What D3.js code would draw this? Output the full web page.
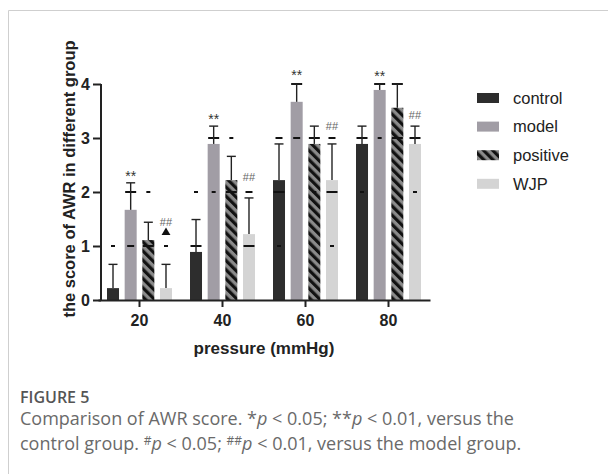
<!DOCTYPE html>
<html><head><meta charset="utf-8">
<script src="https://cdn.jsdelivr.net/npm/d3@7"></script>
<style>body{margin:0;background:#fff;} svg{display:block;}</style>
</head><body>
<svg id="chart" width="608" height="474"></svg>
<script>
// ---- data ----
const groups = ["20","40","60","80"];
const series = ["control","model","positive","WJP"];
const means = {
  control:  [0.22, 0.89, 2.22, 2.89],
  model:    [1.67, 2.89, 3.67, 3.89],
  positive: [1.11, 2.22, 2.89, 3.56],
  WJP:      [0.22, 1.22, 2.22, 2.89]
};
const errors = {
  control:  [0.44, 0.60, 0.67, 0.33],
  model:    [0.50, 0.33, 0.33, 0.11],
  positive: [0.33, 0.44, 0.33, 0.44],
  WJP:      [0.44, 0.67, 0.67, 0.33]
};
const yTicks = [0,1,2,3,4];
// individual points shown as dashes: [group, series, value, multiplicity]
const points = [
  ["20","control",1,1],["20","model",2,3],["20","model",1,2],["20","positive",2,1],["20","positive",1,3],["20","WJP",1,1],
  ["40","control",2,1],["40","control",1,3],["40","model",3,3],["40","model",2,1],["40","positive",3,1],["40","positive",2,3],["40","WJP",2,2],["40","WJP",1,3],
  ["60","control",3,2],["60","control",2,3],["60","control",1,1],["60","model",3,2],["60","model",4,3],["60","positive",3,3],["60","positive",2,1],["60","WJP",3,2],["60","WJP",2,3],["60","WJP",1,1],
  ["80","control",3,3],["80","control",2,1],["80","model",3,1],["80","model",4,3],["80","positive",3,3],["80","positive",4,3],["80","WJP",3,3],["80","WJP",2,1]
];
const triangles = [["20","WJP",1.25]];
// significance labels: [group, series, text, position (score units)]
const sigLabels = [
  ["20","model","**",2.37],["40","model","**",3.42],["60","model","**",4.24],["80","model","**",4.22],
  ["20","WJP","##",1.45],["40","WJP","##",2.28],["60","WJP","##",3.22],["80","WJP","##",3.42]
];
const colors = {control:"#2d2d2d", model:"#a19da5", positive:"url(#hatch)", WJP:"#d4d4d4"};
const yLabel = "the score of AWR in different group";
const xLabel = "pressure (mmHg)";

// ---- drawing ----
const FONT = "Arial, 'Liberation Sans', sans-serif";
const svg = d3.select("#chart");
const defs = svg.append("defs");
const pat = defs.append("pattern").attr("id","hatch").attr("patternUnits","userSpaceOnUse")
  .attr("width",6.5).attr("height",6.5).attr("patternTransform","rotate(-45)");
pat.append("rect").attr("width",6.5).attr("height",6.5).attr("fill","#8a8a8a");
pat.append("rect").attr("width",3.2).attr("height",6.5).attr("fill","#111");

// frame
svg.append("path").attr("d","M8.5,474V10.5H608").attr("fill","none").attr("stroke","#cfcfcf").attr("stroke-width",1);

const y = d3.scaleLinear().domain([0,4]).range([300,84]);
const x0 = d3.scaleBand().domain(groups).range([98,430]).paddingInner(0).paddingOuter(0);
const x1 = d3.scaleBand().domain(series).range([-32.5,32.5]).paddingInner(0.32).paddingOuter(0);
const cx = (g,s) => x0(g) + x0.bandwidth()/2 + x1(s) + x1.bandwidth()/2;

const flat = [];
groups.forEach((g,i)=>series.forEach(s=>flat.push({g,s,m:means[s][i],e:errors[s][i]})));

// bars
svg.append("g").selectAll("rect").data(flat).join("rect")
  .attr("x",d=>cx(d.g,d.s)-x1.bandwidth()/2).attr("width",x1.bandwidth())
  .attr("y",d=>y(d.m)).attr("height",d=>y(0)-y(d.m))
  .attr("fill",d=>colors[d.s]);

// points as dashes
svg.append("g").selectAll("line").data(points).join("line")
  .attr("x1",d=>cx(d[0],d[1]) - [0,2,3.5,5.5][d[3]])
  .attr("x2",d=>cx(d[0],d[1]) + [0,2,3.5,5.5][d[3]])
  .attr("y1",d=>y(d[2])).attr("y2",d=>y(d[2]))
  .attr("stroke","#111").attr("stroke-width",2);

// error bars
const eb = svg.append("g").attr("stroke","#222").attr("stroke-width",1.4);
eb.selectAll("line.v").data(flat).join("line").attr("class","v")
  .attr("x1",d=>cx(d.g,d.s)).attr("x2",d=>cx(d.g,d.s))
  .attr("y1",d=>y(d.m)).attr("y2",d=>y(d.m+d.e));
eb.selectAll("line.c").data(flat).join("line").attr("class","c")
  .attr("x1",d=>cx(d.g,d.s)-4.5).attr("x2",d=>cx(d.g,d.s)+4.5)
  .attr("y1",d=>y(d.m+d.e)).attr("y2",d=>y(d.m+d.e));

// triangles
svg.append("g").selectAll("path").data(triangles).join("path")
  .attr("d",d3.symbol(d3.symbolTriangle,34))
  .attr("transform",d=>`translate(${cx(d[0],d[1])},${y(d[2])})`)
  .attr("fill","#111");

// significance labels
svg.append("g").selectAll("text").data(sigLabels).join("text")
  .attr("x",d=>cx(d[0],d[1])).attr("y",d=>y(d[3]))
  .attr("dy",d=>d[2]==="**"?"0.62em":"0.35em")
  .attr("text-anchor","middle")
  .attr("font-family",FONT)
  .attr("font-size",d=>d[2]==="**"?"14px":"11px")
  .attr("fill",d=>d[2]==="**"?"#333":"#666")
  .text(d=>d[2]);

// axes
const yAxis = svg.append("g").attr("transform","translate(101,0)")
  .call(d3.axisLeft(y).tickValues(yTicks).tickSize(8).tickPadding(3).tickFormat(d3.format("d")));
const xAxis = svg.append("g").attr("transform","translate(0,300)")
  .call(d3.axisBottom(x0).tickSize(7).tickPadding(8).tickSizeOuter(0));
[yAxis,xAxis].forEach(a=>{
  a.selectAll("path,line").attr("stroke","#222").attr("stroke-width",2);
  a.selectAll("text").attr("fill","#222").attr("font-family",FONT)
    .attr("font-weight","bold").attr("font-size","16px");
});
yAxis.select("path.domain").attr("d","M0,84V300");

// axis titles
svg.append("text").attr("transform","translate(75,179) rotate(-90)")
  .attr("text-anchor","middle").attr("font-family",FONT)
  .attr("font-weight","bold").attr("font-size","16.5px").attr("fill","#222").text(yLabel);
svg.append("text").attr("x",264).attr("y",354)
  .attr("text-anchor","middle").attr("font-family",FONT)
  .attr("font-weight","bold").attr("font-size","17px").attr("fill","#222").text(xLabel);

// legend
const lg = svg.append("g").selectAll("g").data(series).join("g")
  .attr("transform",(d,i)=>`translate(477,${98+i*28.6})`);
lg.append("rect").attr("x",0).attr("y",-5).attr("width",22).attr("height",10).attr("fill",d=>colors[d]);
lg.append("text").attr("x",36).attr("y",0).attr("dy","0.35em")
  .attr("font-family",FONT).attr("font-size","16.5px").attr("fill","#222")
  .text(d=>d);

// caption
const cap = svg.append("g").attr("font-family","'Open Sans', sans-serif");
cap.append("text").attr("x",20).attr("y",403).attr("font-size","16px").attr("font-weight",600)
  .attr("fill","#555").text("FIGURE 5");
const l1 = cap.append("text").attr("x",20).attr("y",425).attr("font-size","18px").attr("fill","#6a6a6a");
l1.append("tspan").text("Comparison of AWR score. *");
l1.append("tspan").attr("font-style","italic").text("p");
l1.append("tspan").text(" < 0.05; **");
l1.append("tspan").attr("font-style","italic").text("p");
l1.append("tspan").text(" < 0.01, versus the");
const l2 = cap.append("text").attr("x",20).attr("y",450).attr("font-size","18px").attr("fill","#6a6a6a");
l2.append("tspan").text("control group. ");
l2.append("tspan").attr("font-size","12px").attr("dy","-5").text("#");
l2.append("tspan").attr("font-style","italic").attr("dy","5").text("p");
l2.append("tspan").text(" < 0.05; ");
l2.append("tspan").attr("font-size","12px").attr("dy","-5").text("##");
l2.append("tspan").attr("font-style","italic").attr("dy","5").text("p");
l2.append("tspan").text(" < 0.01, versus the model group.");
</script>
</body></html>
